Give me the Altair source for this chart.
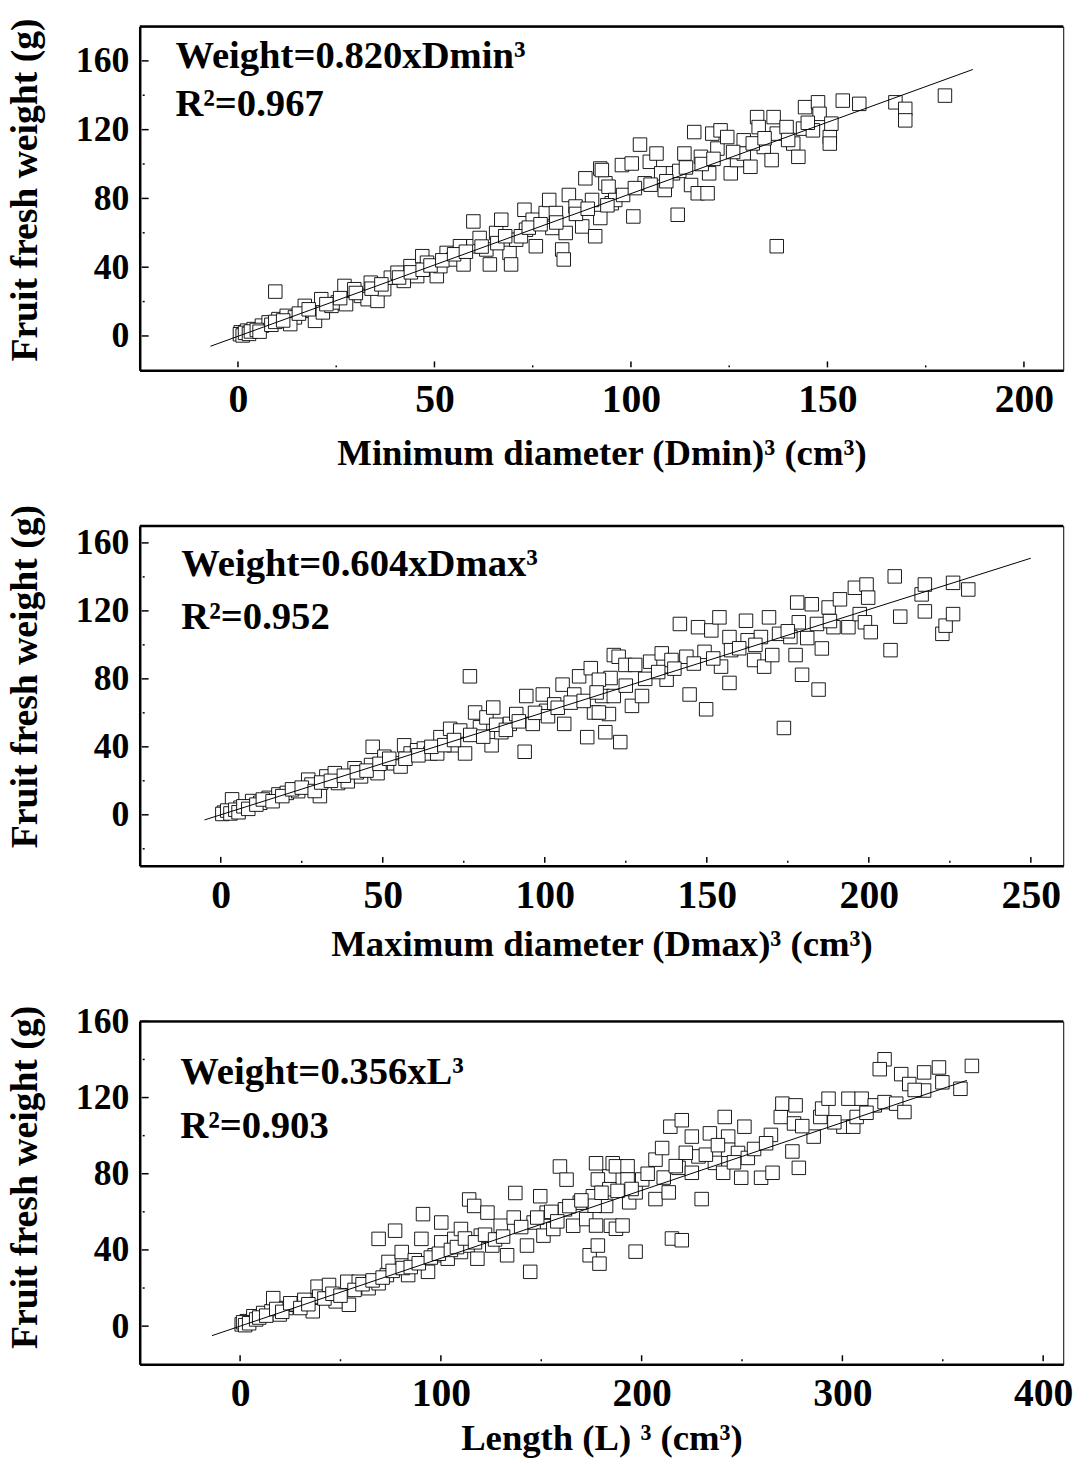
import altair as alt
import pandas as pd

FONT = "Liberation Serif"

# ---------------- data ----------------
dmin_pts = [
    (0.7, 2.1), (2.3, 3.1), (4.0, 4.0), (6.1, 6.0), (7.8, 7.9), (10.3, 9.8), (12.4, 11.7), (14.5, 10.8),
    (13.3, 6.9), (17.0, 17.5), (19.1, 14.6), (19.6, 8.8), (21.2, 21.4), (21.6, 13.7), (23.8, 17.5),
    (25.4, 19.5), (27.1, 29.1), (27.5, 18.5), (29.6, 27.2), (31.3, 23.3), (33.0, 21.4), (33.8, 31.0),
    (35.5, 20.4), (37.2, 27.2), (38.9, 33.9), (40.6, 36.8), (42.2, 32.0), (43.9, 40.6), (45.6, 34.8),
    (46.9, 46.4), (48.1, 42.6), (50.6, 34.8), (51.5, 40.6), (53.1, 48.3), (54.8, 44.5), (56.5, 52.2),
    (57.4, 41.6), (59.9, 66.6), (59.9, 52.2), (61.5, 57.0), (63.2, 50.3), (64.1, 41.6), (65.7, 59.9),
    (67.0, 67.6), (69.1, 48.3), (69.5, 41.6), (70.8, 56.0), (72.9, 73.4), (73.3, 61.8), (75.0, 67.6),
    (75.8, 52.2), (78.3, 71.5), (79.2, 79.1), (80.0, 62.8), (80.9, 71.5), (82.5, 50.3), (82.9, 44.5),
    (83.4, 59.9), (84.2, 82.0), (85.9, 75.3), (87.6, 63.7), (88.4, 91.7), (90.1, 79.1), (90.9, 58.0),
    (92.2, 97.4), (92.2, 68.6), (93.5, 88.8), (95.1, 77.2), (9.5, 25.8),
    (92.6, 96.5), (94.3, 86.8), (96.0, 79.1), (97.7, 99.4), (100.2, 100.3), (100.6, 69.5), (102.3, 111.3),
    (103.5, 88.8), (104.8, 101.3), (106.5, 106.1), (107.7, 94.6), (108.6, 84.9), (110.7, 94.6),
    (111.9, 70.5), (112.3, 96.0), (113.6, 106.1), (115.3, 87.8), (116.1, 118.6), (117.0, 83.0),
    (117.8, 104.2), (119.5, 83.0), (119.9, 94.6), (120.7, 117.7), (122.0, 109.0), (122.8, 119.6),
    (124.5, 115.7), (125.4, 94.6), (127.0, 102.3), (128.7, 113.8), (128.7, 106.1), (130.4, 98.4),
    (132.1, 127.3), (132.5, 121.5), (133.8, 109.9), (136.3, 127.3), (135.8, 102.3), (137.1, 117.7),
    (137.1, 52.2), (139.6, 121.5), (141.3, 111.9), (142.6, 104.2), (143.8, 120.6), (144.3, 133.1),
    (146.3, 119.6), (147.6, 135.9), (148.0, 129.2), (150.6, 115.7), (151.0, 123.5), (150.6, 111.9),
    (153.9, 136.9), (158.1, 135.0), (167.3, 135.9), (169.8, 132.1), (169.8, 125.4), (179.9, 139.8),
    (0.5, 1.0), (1.2, 0.3), (1.8, 1.8), (2.8, 1.2), (3.3, 2.6), (4.8, 3.5), (5.5, 2.5), (8.5, 6.5),
    (9.5, 8.2), (11.5, 9.0), (15.5, 13.0), (18.0, 15.5), (22.5, 18.5), (26.0, 22.0), (30.0, 25.0),
    (34.0, 27.5), (36.5, 30.0), (41.0, 34.0), (44.0, 37.0), (47.0, 38.5), (49.0, 41.0), (52.0, 44.0),
    (55.0, 47.5), (58.0, 49.0), (62.0, 52.0), (66.0, 54.0), (68.0, 58.0), (72.0, 58.0), (74.0, 63.0),
    (77.0, 65.0), (81.0, 66.0), (86.0, 71.0), (89.0, 74.0), (94.0, 76.0), (98.0, 82.0), (101.0, 86.0),
    (105.0, 88.0), (109.0, 90.0), (114.0, 98.0), (118.0, 100.0), (121.0, 103.0), (126.0, 107.0),
    (131.0, 112.0), (134.0, 115.0), (140.0, 114.0), (145.0, 124.0),
]

dmax_pts = [
    (1.0, 1.3), (3.5, 9.1), (6.1, 4.2), (9.7, 8.1), (12.2, 7.1), (14.8, 10.0), (17.8, 12.0), (20.4, 12.9),
    (23.9, 13.9), (27.0, 20.7), (28.0, 17.8), (30.6, 11.0), (32.6, 22.6), (35.2, 24.5), (36.2, 18.7),
    (39.2, 19.7), (41.3, 27.4), (43.3, 22.6), (46.4, 29.3), (46.9, 40.0), (48.4, 24.5), (50.5, 34.2),
    (53.5, 30.3), (55.5, 28.4), (56.6, 40.9), (58.6, 36.1), (60.6, 38.0), (62.7, 39.0), (64.7, 36.1),
    (66.8, 36.1), (67.8, 45.7), (70.8, 50.6), (71.9, 40.9), (73.9, 49.6), (75.4, 36.1), (76.9, 81.5),
    (78.5, 60.2), (80.0, 51.5), (82.0, 57.3), (83.6, 40.9), (84.1, 63.1), (86.6, 48.6), (89.2, 53.5),
    (91.2, 59.3), (93.8, 37.1), (94.3, 69.9), (96.3, 53.5), (99.4, 70.8), (100.4, 61.2), (102.9, 65.0),
    (105.5, 76.6), (106.0, 53.5), (109.1, 70.8), (110.6, 81.5), (113.1, 45.7), (114.2, 86.3),
    (115.2, 60.2), (118.7, 48.6), (119.8, 59.3), (120.3, 80.5), (121.3, 94.0),
    (116.7, 79.5), (117.7, 69.9), (116.7, 60.2), (123.3, 42.8), (121.3, 69.9), (122.8, 93.0),
    (124.9, 88.2), (126.9, 64.1), (127.9, 88.2), (130.0, 69.9), (132.5, 90.1), (136.1, 95.0),
    (137.6, 79.5), (139.1, 91.1), (141.7, 112.3), (143.7, 93.0), (144.7, 70.8), (147.3, 110.4),
    (149.8, 62.1), (149.3, 95.9), (151.4, 108.5), (153.9, 116.2), (154.4, 87.2), (157.0, 104.6),
    (157.0, 77.6), (157.5, 96.9), (162.1, 114.2), (162.6, 102.7), (164.6, 91.1), (166.7, 104.6),
    (167.7, 87.2), (169.2, 116.2), (170.2, 94.0), (172.3, 106.5), (173.8, 51.1), (175.8, 104.6),
    (177.4, 94.0), (177.9, 124.9), (178.4, 113.3), (179.4, 82.4), (182.4, 123.9), (184.0, 112.3),
    (184.5, 73.7), (185.5, 97.9), (187.6, 122.0), (189.1, 110.4), (191.1, 126.8), (193.7, 110.4),
    (195.7, 133.6), (197.2, 118.1), (199.3, 135.5), (199.8, 127.8), (198.8, 113.3), (200.6, 107.5),
    (206.7, 96.9), (208.0, 140.3), (209.7, 116.6), (216.3, 129.7), (217.3, 119.7), (217.3, 135.5),
    (222.7, 106.5), (223.7, 111.3), (226.0, 118.1), (226.0, 136.5), (230.7, 132.6),
    (0.5, 0.5), (2.0, 2.5), (3.0, 0.8), (4.5, 3.0), (5.5, 1.5), (7.0, 5.0), (8.5, 3.5), (11.0, 6.0),
    (13.0, 9.0), (16.0, 8.0), (19.0, 11.0), (22.0, 15.0), (25.0, 16.0), (29.0, 14.0), (31.0, 19.0),
    (34.0, 20.0), (38.0, 23.0), (42.0, 25.0), (45.0, 26.0), (49.0, 30.0), (52.0, 33.0), (57.0, 33.0),
    (61.0, 35.0), (65.0, 40.0), (69.0, 41.0), (72.0, 44.0), (77.0, 47.0), (81.0, 46.0), (85.0, 53.0),
    (88.0, 50.0), (92.0, 55.0), (97.0, 60.0), (101.0, 58.0), (104.0, 63.0), (108.0, 66.0),
    (112.0, 67.0), (116.0, 72.0), (125.0, 76.0), (131.0, 80.0), (135.0, 84.0), (140.0, 86.0),
    (146.0, 89.0), (152.0, 92.0), (160.0, 98.0), (165.0, 100.0), (175.0, 108.0), (181.0, 104.0),
    (188.0, 114.0),
]

len_pts = [
    (0.8, 0.9), (3.3, 2.6), (6.6, 5.2), (11.5, 6.9), (15.6, 7.8), (16.5, 14.7), (19.7, 6.1), (23.0, 9.5),
    (27.9, 11.2), (32.0, 13.8), (36.2, 7.8), (38.6, 20.7), (39.4, 15.5), (44.3, 21.6), (47.6, 13.0),
    (53.4, 23.3), (54.2, 11.2), (59.1, 23.3), (64.0, 19.9), (69.0, 22.5), (69.0, 45.8), (73.1, 26.8),
    (73.9, 33.7), (77.2, 50.1), (80.5, 38.9), (83.7, 26.8), (87.0, 34.6), (90.3, 45.8), (91.1, 58.8),
    (93.6, 28.5), (96.9, 37.2), (100.2, 54.4), (100.2, 44.0), (103.4, 35.4), (106.7, 45.8),
    (110.0, 38.9), (110.0, 51.0), (113.3, 42.3), (114.1, 66.5), (116.6, 63.1), (118.2, 35.4),
    (119.9, 47.5), (123.2, 59.6), (125.6, 42.3), (129.8, 52.7), (133.0, 37.2), (136.3, 57.0),
    (137.1, 69.9), (142.9, 42.3), (144.5, 28.5), (146.2, 54.4), (149.5, 68.2), (151.1, 47.5),
    (152.7, 59.6), (156.0, 51.0), (159.3, 83.8), (161.8, 61.3), (162.6, 76.9), (165.9, 52.7),
    (169.2, 64.8), (172.4, 56.2), (174.1, 37.2), (175.7, 68.2), (177.3, 85.5), (178.2, 42.3),
    (179.0, 32.8), (182.3, 63.1), (183.9, 78.6), (184.7, 52.7), (185.6, 85.5),
    (178.2, 77.0), (176.6, 63.2), (177.3, 52.8), (183.9, 71.9), (187.2, 83.9), (187.2, 51.1),
    (190.5, 52.8), (193.0, 83.9), (193.0, 77.0), (193.8, 65.0), (197.0, 39.1), (197.0, 70.2),
    (200.3, 77.0), (206.9, 87.4), (206.9, 66.7), (210.2, 93.5), (213.5, 70.2), (215.1, 46.0),
    (214.3, 104.7), (218.4, 83.1), (220.0, 45.1), (220.0, 108.1), (225.0, 99.5), (225.0, 80.5),
    (228.3, 89.1), (229.9, 66.7), (234.0, 101.2), (236.5, 85.7), (240.6, 80.5), (241.4, 109.8),
    (243.1, 99.5), (243.1, 92.6), (248.0, 90.9), (249.6, 77.9), (251.2, 104.7), (252.9, 88.3),
    (259.5, 77.9), (264.4, 100.4), (265.2, 80.5), (269.3, 109.8), (270.1, 116.8), (275.1, 91.7),
    (275.9, 106.4), (276.7, 115.9), (278.3, 83.1), (285.7, 99.5), (289.0, 109.8), (289.9, 114.2),
    (293.1, 119.4), (300.5, 104.7), (303.0, 119.4), (305.4, 104.7), (307.1, 109.8), (309.6, 119.4),
    (316.1, 115.9), (321.0, 117.6), (326.8, 116.8), (330.9, 112.4), (321.0, 140.1), (318.6, 134.9),
    (329.3, 132.3), (333.3, 127.1), (340.7, 133.2), (340.7, 123.7), (348.1, 135.8), (349.8, 128.0),
    (358.8, 124.6), (364.5, 136.6),
    (1.5, 2.0), (2.5, 0.5), (4.5, 1.5), (8.0, 3.5), (9.5, 4.5), (13.0, 5.5), (18.0, 9.0), (21.0, 7.5),
    (25.0, 12.0), (30.0, 9.5), (34.0, 11.5), (42.0, 14.5), (46.0, 17.0), (50.0, 16.0), (57.0, 19.0),
    (61.0, 22.0), (66.0, 24.0), (71.0, 25.5), (76.0, 29.0), (81.0, 30.5), (85.0, 31.0), (89.0, 33.0),
    (95.0, 36.0), (99.0, 38.0), (105.0, 40.0), (108.0, 41.5), (112.0, 46.0), (117.0, 44.0),
    (122.0, 48.0), (127.0, 45.5), (131.0, 47.0), (140.0, 52.0), (148.0, 57.0), (155.0, 60.0),
    (158.0, 55.0), (164.0, 63.0), (170.0, 66.0), (180.0, 70.0), (188.0, 71.0), (195.0, 72.0),
    (203.0, 80.0), (211.0, 78.0), (217.0, 84.0), (222.0, 91.0), (232.0, 90.0), (238.0, 95.0),
    (246.0, 86.0), (256.0, 93.0), (262.0, 96.0), (280.0, 105.0), (296.0, 107.0), (312.0, 112.0),
    (336.0, 124.0),
]

# fitted lines (end points)
fit_x = [[-7, 187], [-5, 250], [-14, 362]]
fit_y = [[-6, 155], [-3, 151], [-5, 129]]

eq_texts = ["Weight=0.820xDmin³", "Weight=0.604xDmax³", "Weight=0.356xL³"]
r2_texts = ["R²=0.967", "R²=0.952", "R²=0.903"]
x_titles = ["Minimum diameter (Dmin)³ (cm³)", "Maximum diameter (Dmax)³ (cm³)", "Length (L) ³ (cm³)"]
y_title = "Fruit fresh weight (g)"

x_domains = [[-25, 210], [-25, 260], [-50, 410]]
y_domains = [[-20, 180], [-30, 170], [-20, 160]]
x_major = [[0, 50, 100, 150, 200], [0, 50, 100, 150, 200, 250], [0, 100, 200, 300, 400]]
x_minor = [[25, 75, 125, 175], [25, 75, 125, 175, 225], [50, 150, 250, 350]]
y_major = [[0, 40, 80, 120, 160], [0, 40, 80, 120, 160], [0, 40, 80, 120, 160]]
y_minor = [[20, 60, 100, 140], [-20, 20, 60, 100, 140], [20, 60, 100, 140]]

# ---------------- layout / style ----------------
W = 932
HEIGHTS = [347, 343, 346]
YTITLE_SHIFT = [-9, -20, -16]
XTITLE_Y = [95, 91, 86]
EQ_POS = [(36, 42, 90), (42, 51, 104), (41, 63, 118)]


def panel(i, pts):
    H = HEIGHTS[i]
    xs = alt.Scale(domain=x_domains[i], nice=False, zero=False)
    ys = alt.Scale(domain=y_domains[i], nice=False, zero=False)
    df = pd.DataFrame(pts, columns=["x", "y"])

    xaxis = alt.Axis(
        values=x_major[i], title=x_titles[i], grid=False, ticks=False, tickSize=0,
        domainColor="black", domainWidth=2.5,
        labelFont=FONT, labelFontSize=40, labelFontWeight="bold", labelColor="black",
        labelPadding=42, labelBaseline="alphabetic", labelFlush=False, labelOverlap=False,
        titleFont=FONT, titleFontSize=37, titleFontWeight="bold", titleColor="black",
        titleY=XTITLE_Y[i], titleX=W / 2, titleBaseline="alphabetic", titleAlign="center",
        format="d",
    )
    yaxis = alt.Axis(
        values=y_major[i], title=y_title, grid=False, ticks=False, tickSize=0,
        domainColor="black", domainWidth=2.5,
        labelFont=FONT, labelFontSize=36, labelFontWeight="bold", labelColor="black",
        labelPadding=11, labelFlush=False, labelOverlap=False,
        titleFont=FONT, titleFontSize=38, titleFontWeight="bold", titleColor="black",
        titleAngle=270, titleX=-96, titleY=H / 2 + YTITLE_SHIFT[i], titleBaseline="bottom",
        titleAlign="center", format="d",
    )
    X = lambda: alt.X("x:Q", scale=xs, axis=xaxis)
    Y = lambda: alt.Y("y:Q", scale=ys, axis=yaxis)

    points = alt.Chart(df).mark_square(
        size=185, fill="white", stroke="black", strokeWidth=0.9, opacity=1
    ).encode(x=X(), y=Y())

    line = alt.Chart(pd.DataFrame({"x": fit_x[i], "y": fit_y[i]})).mark_line(
        color="black", strokeWidth=1
    ).encode(x=X(), y=Y())

    ymaj = alt.Chart(pd.DataFrame({"y": y_major[i]})).mark_rule(
        color="black", strokeWidth=1.5
    ).encode(y=Y(), x=alt.value(2), x2=alt.value(9))
    ymin = alt.Chart(pd.DataFrame({"y": y_minor[i]})).mark_rule(
        color="black", strokeWidth=1.5
    ).encode(y=Y(), x=alt.value(3), x2=alt.value(5))
    xmaj = alt.Chart(pd.DataFrame({"x": x_major[i]})).mark_rule(
        color="black", strokeWidth=1.5
    ).encode(x=X(), y=alt.value(H - 9), y2=alt.value(H - 3))
    xmin = alt.Chart(pd.DataFrame({"x": x_minor[i]})).mark_rule(
        color="black", strokeWidth=1.5
    ).encode(x=X(), y=alt.value(H - 5), y2=alt.value(H - 3))

    top = alt.Chart(pd.DataFrame({"a": [0]})).mark_rule(
        color="black", strokeWidth=2.5
    ).encode(x=alt.value(0), x2=alt.value(W), y=alt.value(0))

    tx, ey, ry = EQ_POS[i]
    txt_style = dict(align="left", baseline="alphabetic", font=FONT, fontSize=39,
                     fontWeight="bold", color="black")
    eq = alt.Chart(pd.DataFrame({"t": [eq_texts[i]]})).mark_text(**txt_style).encode(
        x=alt.value(tx), y=alt.value(ey), text="t:N")
    r2 = alt.Chart(pd.DataFrame({"t": [r2_texts[i]]})).mark_text(**txt_style).encode(
        x=alt.value(tx), y=alt.value(ry), text="t:N")

    return alt.layer(points, line, ymaj, ymin, xmaj, xmin, top, eq, r2).properties(
        width=W, height=H
    )


chart = alt.vconcat(
    panel(0, dmin_pts), panel(1, dmax_pts), panel(2, len_pts), spacing=157, bounds="flush"
).properties(
    padding={"left": 6, "top": 10, "right": 15, "bottom": 5}, background="white"
).configure_view(stroke="black", strokeWidth=1)

chart.save("out.html", embed_options={"renderer": "svg", "actions": False})
